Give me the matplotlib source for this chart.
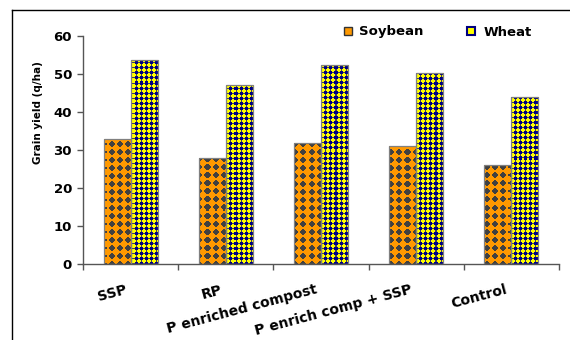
import numpy as np
import matplotlib
matplotlib.use("Agg")
import matplotlib.pyplot as plt
from matplotlib.patches import Patch
from matplotlib.lines import Line2D
from matplotlib.transforms import ScaledTranslation

categories = ["SSP", "RP", "P enriched compost", "P enrich comp + SSP", "Control"]
soybean = [32.8, 27.9, 31.8, 31.0, 26.1]
wheat = [53.8, 47.1, 52.4, 50.2, 44.0]
series_names = ["Soybean", "Wheat"]
yticks = [0, 10, 20, 30, 40, 50, 60]

FW, FH, DPI = 5.7, 3.4, 100
fig = plt.figure(figsize=(FW, FH), dpi=DPI)
L, R, T, B = 83, 559, 36, 264
ax = fig.add_axes([L / 570, 1 - B / 340, (R - L) / 570, (B - T) / 340])

font = dict(family="DejaVu Sans", weight="bold")

# textures in screen pixels
W, H = R - L, B - T
yy, xx = np.mgrid[0:H, 0:W]

def hexrgb(h):
    h = h.lstrip("#")
    return np.array([int(h[i:i + 2], 16) / 255 for i in (0, 2, 4)])

orange, dark = hexrgb("#FF9900"), hexrgb("#404040")
u = (xx % 8) - 3.5
v = (yy % 8) - 3.5
dia = (np.abs(u) + np.abs(v) <= 3.6) & (np.maximum(np.abs(u), np.abs(v)) <= 2.6)
soy_tex = np.where(dia[..., None], dark, orange)

yellow, navy, mid = hexrgb("#FFFF00"), hexrgb("#000080"), hexrgb("#3A3A66")
u2 = (xx % 5) - 2
v2 = (yy % 5) - 2
d2 = u2 ** 2 + v2 ** 2
wht_tex = np.where((d2 <= 2)[..., None], navy, np.where((d2 == 4)[..., None], mid, yellow))

x = np.arange(len(categories))
w = 0.284
sets = [(x - w / 2, soybean, "#FF9900", soy_tex), (x + w / 2, wheat, "#FFFF00", wht_tex)]
for pos, vals, base, tex in sets:
    bars = ax.bar(pos, vals, w, color=base, edgecolor="none", zorder=1)
    for b in bars:
        im = ax.imshow(tex, extent=(-0.5, 4.5, 0, 60), aspect="auto",
                       interpolation="nearest", zorder=2)
        im.set_clip_path(b)
    ax.bar(pos, vals, w, fill=False, edgecolor="#808080", linewidth=0.9, zorder=3)

ax.set_xlim(-0.5, 4.5)
ax.set_ylim(0, 60)
for s in ["top", "right"]:
    ax.spines[s].set_visible(False)
for s in ["left", "bottom"]:
    ax.spines[s].set_color("#555555")
    ax.spines[s].set_linewidth(1.0)

ax.set_yticks(yticks)
ax.set_yticklabels([str(t) for t in yticks], fontsize=9.5, **font)
ax.tick_params(axis="y", direction="out", length=4, width=1, color="#555555", pad=4)

ax.set_xticks(x)
ax.set_xticks(np.arange(-0.5, 5, 1), minor=True)
ax.tick_params(axis="x", which="major", length=0, pad=13.5)
ax.tick_params(axis="x", which="minor", direction="out", length=4, width=1, color="#555555")
ax.set_xticklabels(categories, fontsize=10, rotation=15, ha="right", va="top",
                   rotation_mode="anchor", **font)
off = ScaledTranslation(-6 / DPI, 0, fig.dpi_scale_trans)
for lab in ax.get_xticklabels():
    lab.set_transform(lab.get_transform() + off)

ax.set_ylabel("Grain yield (q/ha)", fontsize=7.5, **font)
ax.yaxis.set_label_coords(-0.084, 0.664)

handles = [Patch(facecolor="#FF9900", edgecolor="#333333", linewidth=1.0),
           Patch(facecolor="#FFFF00", edgecolor="#000080", linewidth=1.5)]
fig.legend(handles, series_names, loc="center left", bbox_to_anchor=(337 / 570, 1 - 32 / 340),
           ncol=2, frameon=False, borderpad=0, handlelength=0.6, handleheight=0.6,
           handletextpad=0.6, columnspacing=3.3, prop=dict(family="DejaVu Sans", weight="bold", size=9.5))

x0, y0 = 12 / 570, 1 - 10 / 340
fig.add_artist(Line2D([x0, x0], [0.0, y0], transform=fig.transFigure,
                      color="black", linewidth=1))
fig.add_artist(Line2D([x0, 1.0], [y0, y0], transform=fig.transFigure,
                      color="black", linewidth=1))

fig.savefig("out.png", dpi=DPI)
